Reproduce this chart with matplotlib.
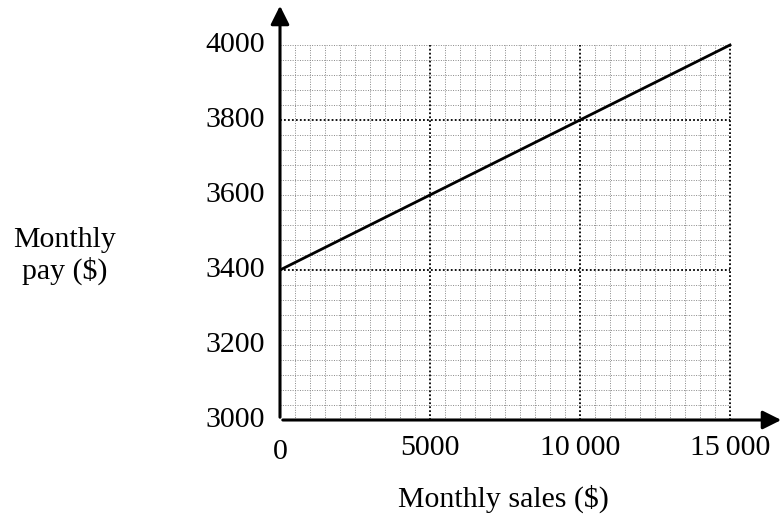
import numpy as np
import matplotlib.pyplot as plt

plt.rcParams['font.family'] = ['Liberation Serif', 'DejaVu Serif']

# datos de la recta
ventas = [0, 15000]
pago = [3400, 4000]

xticks = [0, 5000, 10000, 15000]
xlabels = ['0', '5000', '10\u2009000', '15\u2009000']
yticks = [3000, 3200, 3400, 3600, 3800, 4000]

fig = plt.figure(figsize=(7.84, 5.15), dpi=100)
# eje: x de 280 a 784 px, y de 420 a 0 px
ax = fig.add_axes([280 / 784, 95 / 515, 504 / 784, 420 / 515])
ax.set_xlim(0, 16800)
ax.set_ylim(3000, 3000 + 420 / 375 * 1000)
for s in ax.spines.values():
    s.set_visible(False)
ax.set_xticks([])
ax.set_yticks([])

# cuadricula
for x in np.arange(500, 15001, 500):
    if x % 5000 == 0:
        ax.plot([x, x], [3000, 4000], color='black', lw=1.3, ls=(0, (1, 1.2)), zorder=1)
    else:
        ax.plot([x, x], [3000, 4000], color='#888888', lw=0.7, ls=(0, (1, 1.5)), zorder=0)
for y in np.arange(3040, 4001, 40):
    if (y - 3000) % 400 == 0:
        ax.plot([0, 15000], [y, y], color='black', lw=1.3, ls=(0, (1, 1.2)), zorder=1)
    else:
        ax.plot([0, 15000], [y, y], color='#888888', lw=0.7, ls=(0, (1, 1.5)), zorder=0)

# ejes con flecha
ax.annotate('', xy=(16800, 3000), xytext=(0, 3000),
            arrowprops=dict(arrowstyle='-|>', color='black', lw=2.2, mutation_scale=28),
            annotation_clip=False)
ax.annotate('', xy=(0, 4112), xytext=(0, 3000),
            arrowprops=dict(arrowstyle='-|>', color='black', lw=2.2, mutation_scale=28),
            annotation_clip=False)

ax.plot(ventas, pago, color='black', lw=2, zorder=3)

for x, t in zip(xticks, xlabels):
    yb = 2896 if x == 0 else 2907   # el 0 va un poco mas abajo
    ax.text(x, yb, t, ha='center', va='baseline', fontsize=21.5)
for y in yticks:
    ax.text(-500, y, str(y), ha='right', va='center', fontsize=21.5)

fig.text(65 / 784, 1 - 247 / 515, 'Monthly', ha='center', va='baseline', fontsize=21.5)
fig.text(65 / 784, 1 - 279 / 515, 'pay ($)', ha='center', va='baseline', fontsize=21.5)
fig.text(503 / 784, 1 - 507 / 515, 'Monthly sales ($)', ha='center', va='baseline', fontsize=21.5)

fig.savefig('out.png', dpi=100)
